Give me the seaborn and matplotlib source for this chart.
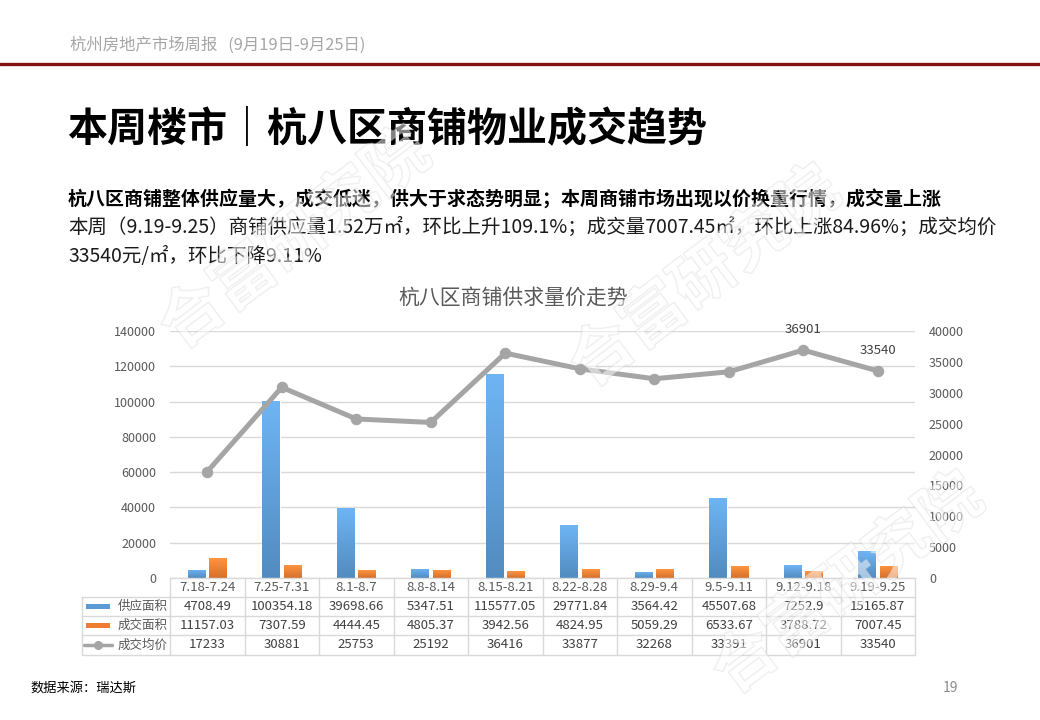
import numpy as np
import pandas as pd
import matplotlib
matplotlib.use('Agg')
import matplotlib.pyplot as plt
import matplotlib.patheffects as pe
from matplotlib.lines import Line2D
from matplotlib.patches import Rectangle
import seaborn as sns

# ---------------- data ----------------
weeks = ['7.18-7.24', '7.25-7.31', '8.1-8.7', '8.8-8.14', '8.15-8.21',
         '8.22-8.28', '8.29-9.4', '9.5-9.11', '9.12-9.18', '9.19-9.25']
supply = [4708.49, 100354.18, 39698.66, 5347.51, 115577.05,
          29771.84, 3564.42, 45507.68, 7252.9, 15165.87]
deal = [11157.03, 7307.59, 4444.45, 4805.37, 3942.56,
        4824.95, 5059.29, 6533.67, 3788.72, 7007.45]
price = [17233, 30881, 25753, 25192, 36416, 33877, 32268, 33391, 36901, 33540]
series_names = ['供应面积', '成交面积', '成交均价']
left_ticks = [0, 20000, 40000, 60000, 80000, 100000, 120000, 140000]
right_ticks = [0, 5000, 10000, 15000, 20000, 25000, 30000, 35000, 40000]
labelled_points = [8, 9]

BLUE = '#5b9bd5'
ORANGE = '#ed7d31'
GRAY = '#a5a5a5'
TXT = '#595959'
GRID = '#d9d9d9'

sns.set_theme(style='white')
plt.rcParams['font.family'] = ['Noto Sans CJK SC', 'DejaVu Sans']
plt.rcParams['axes.unicode_minus'] = False

W, H = 1040, 720
fig = plt.figure(figsize=(W / 100, H / 100), dpi=100)
fig.patch.set_facecolor('white')

# ---------------- page header ----------------
fig.text(70 / W, 1 - 45 / H, '杭州房地产市场周报   (9月19日-9月25日)', fontsize=11.8,
         color='#a6a6a6', ha='left', va='center')
fig.add_artist(Line2D([0, 1], [1 - 63.5 / H, 1 - 63.5 / H], color='#7f1111', lw=2.4,
                      transform=fig.transFigure))
fig.text(67 / W, 1 - 130 / H, '本周楼市｜杭八区商铺物业成交趋势', fontsize=28.8,
         fontweight='bold', color='black', ha='left', va='center')
fig.text(68 / W, 1 - 199 / H,
         '杭八区商铺整体供应量大，成交低迷，供大于求态势明显；本周商铺市场出现以价换量行情，成交量上涨',
         fontsize=13.65, fontweight='bold', color='black', ha='left', va='center')
fig.text(68 / W, 1 - 227 / H,
         '本周（9.19-9.25）商铺供应量1.52万㎡，环比上升109.1%；成交量7007.45㎡，环比上涨84.96%；成交均价',
         fontsize=14, color='#1a1a1a', ha='left', va='center')
fig.text(68 / W, 1 - 256 / H, '33540元/㎡，环比下降9.11%',
         fontsize=14, color='#1a1a1a', ha='left', va='center')
fig.text(30 / W, 1 - 688 / H, '数据来源：瑞达斯', fontsize=9.5, color='black',
         ha='left', va='center')
fig.text(951 / W, 1 - 688 / H, '19', fontsize=10, color='#8c8c8c', ha='center', va='center')

# chart title
fig.text(513 / W, 1 - 298 / H, '杭八区商铺供求量价走势', fontsize=15, color=TXT,
         ha='center', va='center')

# ---------------- chart ----------------
ax = fig.add_axes([170 / W, 1 - 578 / H, 745 / W, 247 / H])
df = pd.DataFrame({'week': weeks * 2, 'value': supply + deal,
                   'series': [series_names[0]] * len(weeks) + [series_names[1]] * len(weeks)})
sns.barplot(data=df, x='week', y='value', hue='series', palette=[BLUE, ORANGE],
            width=0.58, gap=0.18, saturation=1, legend=False, ax=ax, zorder=2)

# gentle vertical gradient on bars
def grad_for(color):
    c = np.array(matplotlib.colors.to_rgb(color))
    top = np.clip(c * 1.1 + 0.04, 0, 1)
    bot = np.clip(c * 0.9, 0, 1)
    t = np.linspace(0, 1, 64)[:, None]
    return (bot * (1 - t) + top * t)[:, None, :]

for bar in list(ax.patches):
    h = bar.get_height()
    if not np.isfinite(h) or h <= 0:
        continue
    x0, w = bar.get_x(), bar.get_width()
    img = ax.imshow(grad_for(bar.get_facecolor()), extent=[x0, x0 + w, 0, h],
                    origin='lower', aspect='auto', zorder=2.1, interpolation='bilinear')
    img.set_clip_path(bar)

ax.set_xlim(-0.5, len(weeks) - 0.5)
ax.set_ylim(left_ticks[0], left_ticks[-1])
ax.set_yticks(left_ticks)
ax.set_yticklabels([str(v) for v in left_ticks])
ax.set_xticks([])
ax.set_xlabel('')
ax.set_ylabel('')
ax.yaxis.grid(True, color=GRID, lw=1)
ax.set_axisbelow(True)
for s in ['top', 'left', 'right']:
    ax.spines[s].set_visible(False)
ax.spines['bottom'].set_color(GRID)
ax.spines['bottom'].set_linewidth(1)
ax.tick_params(axis='y', length=0, pad=10, labelsize=9, labelcolor=TXT)

ax2 = ax.twinx()
sns.lineplot(x=np.arange(len(weeks)), y=price, ax=ax2, color=GRAY, lw=3.6,
             marker='o', markersize=7.5, markeredgecolor=GRAY, markerfacecolor=GRAY)
ax2.set_ylim(right_ticks[0], right_ticks[-1])
ax2.set_yticks(right_ticks)
ax2.set_yticklabels([str(v) for v in right_ticks])
ax2.set_ylabel('')
ax2.grid(False)
for s in ['top', 'left', 'right', 'bottom']:
    ax2.spines[s].set_visible(False)
ax2.tick_params(axis='y', length=0, pad=10, labelsize=9, labelcolor=TXT)
ax.set_xlim(-0.5, len(weeks) - 0.5)

for i in labelled_points:
    ax2.annotate(str(price[i]), (i, price[i]), xytext=(0, 14.5), textcoords='offset points',
                 ha='center', va='center', fontsize=9.5, color='#404040')

# ---------------- data table ----------------
AXH = 247.0
AXW = 745.0
row_px = [0, 19, 38, 57, 77]
rows = [-p / AXH for p in row_px]
lx = -88 / AXW
n = len(weeks)
tkw = dict(transform=ax.transAxes, clip_on=False, color=GRID, lw=1)
for y in rows[1:]:
    ax.add_line(Line2D([lx, 1], [y, y], **tkw))
for i in range(n + 1):
    ax.add_line(Line2D([i / n, i / n], [rows[0], rows[-1]], **tkw))
ax.add_line(Line2D([lx, lx], [rows[1], rows[-1]], **tkw))

def rc(r):
    return (rows[r] + rows[r + 1]) / 2

for i, wk in enumerate(weeks):
    xc = (i + 0.5) / n
    ax.text(xc, rc(0), wk, transform=ax.transAxes, ha='center', va='center',
            fontsize=9.5, color=TXT)
    ax.text(xc, rc(1), str(supply[i]), transform=ax.transAxes, ha='center', va='center',
            fontsize=9.5, color='#404040')
    ax.text(xc, rc(2), str(deal[i]), transform=ax.transAxes, ha='center', va='center',
            fontsize=9.5, color='#404040')
    ax.text(xc, rc(3), str(price[i]), transform=ax.transAxes, ha='center', va='center',
            fontsize=9.5, color='#404040')

ix0, ix1 = -84 / AXW, -60 / AXW
rh = 5 / AXH
for r, col in [(1, BLUE), (2, ORANGE)]:
    ax.add_patch(Rectangle((ix0, rc(r) - rh / 2), ix1 - ix0, rh, transform=ax.transAxes,
                           clip_on=False, facecolor=col, edgecolor='none'))
ax.add_line(Line2D([-86 / AXW, -58 / AXW], [rc(3), rc(3)], transform=ax.transAxes,
                   clip_on=False, color=GRAY, lw=2.5))
ax.add_line(Line2D([-72 / AXW], [rc(3)], transform=ax.transAxes, clip_on=False,
                   color=GRAY, marker='o', markersize=5.5))
for r in (1, 2, 3):
    ax.text(-52 / AXW, rc(r), series_names[r - 1], transform=ax.transAxes, ha='left',
            va='center', fontsize=9, color=TXT)

# ---------------- watermarks ----------------
for cx, cy in [(295, 240), (705, 278), (848, 585)]:
    fig.text(cx / W, 1 - cy / H, '合富研究院', fontsize=46, fontweight='bold',
             rotation=37, rotation_mode='anchor', ha='center', va='center',
             color=(1, 1, 1, 0.3), zorder=50,
             path_effects=[pe.Stroke(linewidth=1.1, foreground=(0.78, 0.78, 0.78, 0.3)),
                           pe.Normal()])

fig.savefig('out.png', dpi=100, facecolor='white')
